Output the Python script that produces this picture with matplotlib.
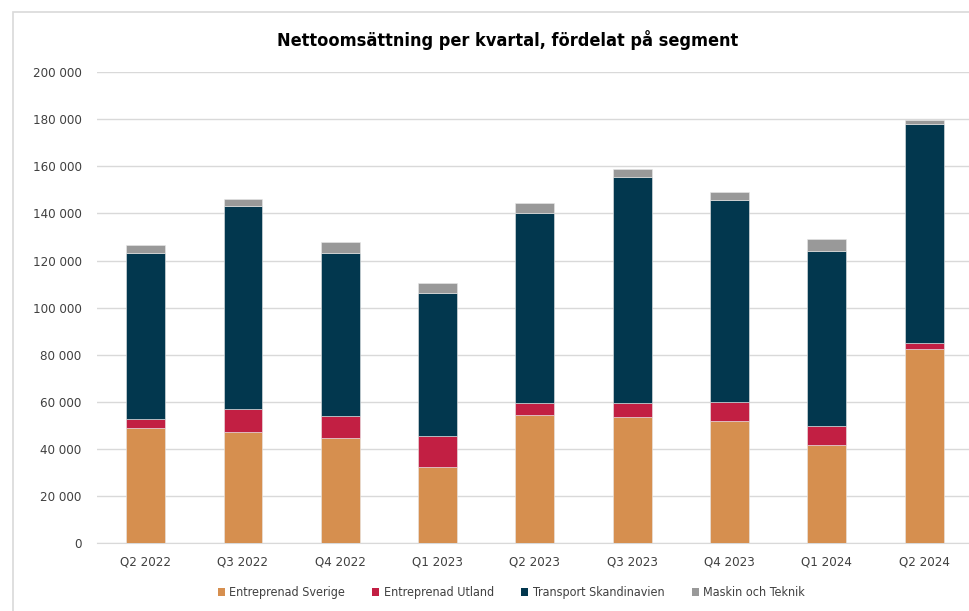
import numpy as np
import matplotlib.pyplot as plt
from matplotlib.patches import Rectangle
from matplotlib.ticker import FuncFormatter

plt.rcParams['font.family'] = ['DejaVu Sans']
plt.rcParams['font.stretch'] = 'condensed'

quarters = ['Q2 2022', 'Q3 2022', 'Q4 2022', 'Q1 2023', 'Q2 2023',
            'Q3 2023', 'Q4 2023', 'Q1 2024', 'Q2 2024']
sverige = [48800, 47100, 44700, 32300, 54400, 53700, 51800, 41800, 82400]
utland = [3800, 9800, 9200, 13400, 5200, 5900, 8200, 8000, 2400]
transport = [70700, 86200, 69500, 60500, 80700, 95800, 85900, 74100, 93000]
maskin = [3200, 2900, 4300, 4300, 4100, 3400, 3300, 5300, 1800]

series = [('Entreprenad Sverige', sverige, '#D68F4F'),
          ('Entreprenad Utland', utland, '#C21F43'),
          ('Transport Skandinavien', transport, '#02374E'),
          ('Maskin och Teknik', maskin, '#999999')]

fig = plt.figure(figsize=(9.70, 6.11), dpi=100)
fig.patches.append(Rectangle((13 / 970, -0.01), 1.0, 1 - 12 / 611 + 0.01,
                             transform=fig.transFigure, fill=False,
                             edgecolor='#D9D9D9', linewidth=1.2))
ax = fig.add_axes([0.1, 0.111, 0.903, 0.771])

x = np.arange(len(quarters))
bottom = np.zeros(len(quarters))
for name, vals, col in series:
    ax.bar(x, vals, 0.4, bottom=bottom, color=col, label=name,
           edgecolor='#E8E8E8', linewidth=0.4, zorder=3)
    bottom += np.array(vals)

ax.set_xlim(-0.5, len(quarters) - 0.5)
ax.set_ylim(0, 200000)
ax.set_yticks(np.arange(0, 200001, 20000))
ax.yaxis.set_major_formatter(FuncFormatter(lambda v, p: f'{int(v):,}'.replace(',', ' ')))
ax.set_xticks(x)
ax.set_xticklabels(quarters)
ax.grid(axis='y', color='#D9D9D9', linewidth=1, zorder=0)
for s in ['top', 'right', 'left']:
    ax.spines[s].set_visible(False)
ax.spines['bottom'].set_color('#D9D9D9')
ax.tick_params(length=0, labelsize=9.5, colors='#404040', pad=9)
ax.tick_params(axis='y', pad=11)

fig.text(0.523, 0.935, 'Nettoomsättning per kvartal, fördelat på segment',
         ha='center', va='center', fontsize=13, fontweight='bold', color='black')

leg = ax.legend(loc='upper center', bbox_to_anchor=(0.473, -0.068), ncol=4, frameon=False,
                fontsize=9, handlelength=0.55, handleheight=0.55, handletextpad=0.35,
                columnspacing=2.2, labelcolor='#404040')
for h in leg.legend_handles:
    h.set_edgecolor('none')

fig.savefig('out.png', dpi=100)
